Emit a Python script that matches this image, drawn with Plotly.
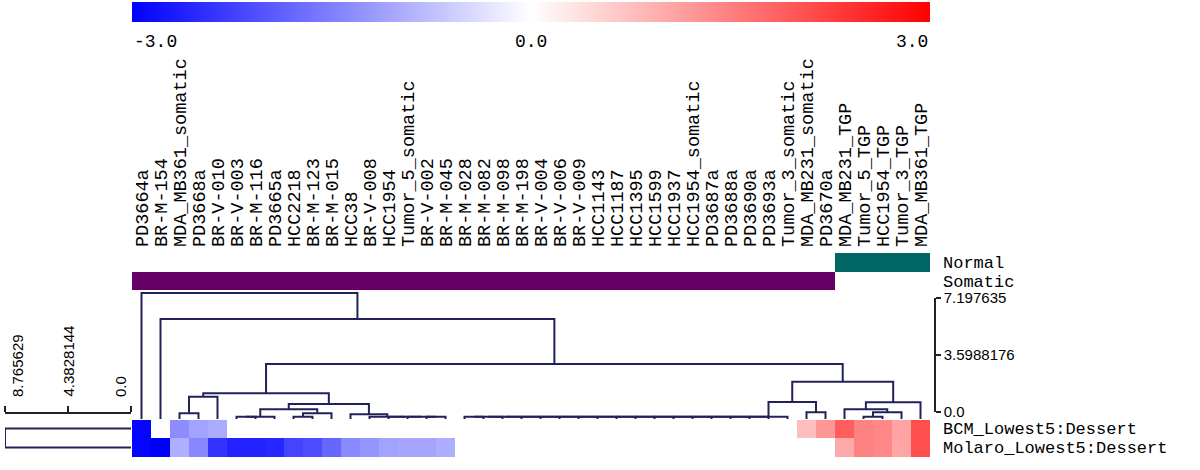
import plotly.graph_objects as go

W, H = 1200, 470

# ---------------- data ----------------
samples = [
    "PD3664a", "BR-M-154", "MDA_MB361_somatic", "PD3668a", "BR-V-010", "BR-V-003",
    "BR-M-116", "PD3665a", "HCC2218", "BR-M-123", "BR-M-015", "HCC38", "BR-V-008",
    "HCC1954", "Tumor_5_somatic", "BR-V-002", "BR-M-045", "BR-M-028", "BR-M-082",
    "BR-M-098", "BR-M-198", "BR-V-004", "BR-V-006", "BR-V-009", "HCC1143", "HCC1187",
    "HCC1395", "HCC1599", "HCC1937", "HCC1954_somatic", "PD3687a", "PD3688a",
    "PD3690a", "PD3693a", "Tumor_3_somatic", "MDA_MB231_somatic", "PD3670a",
    "MDA_MB231_TGP", "Tumor_5_TGP", "HCC1954_TGP", "Tumor_3_TGP", "MDA_MB361_TGP",
]
row_names = ["BCM_Lowest5:Dessert", "Molaro_Lowest5:Dessert"]

bcm_values = [
    -2.95, None, -1.35, -1.10, -1.00, None, None, None, None, None, None, None, None, None,
    None, None, None, None, None, None, None, None, None, None, None, None, None, None,
    None, None, None, None, None, None, None, 0.76, 1.24, 1.90, 1.47, 1.41, 1.08, 2.08,
]
molaro_values = [
    -2.95, -3.00, -0.94, -1.41, -2.40, -2.60, -2.60, -2.55, -2.20, -2.10, -1.80, -1.40,
    -1.25, -1.10, -1.05, -1.05, -0.95, None, None, None, None, None, None, None, None,
    None, None, None, None, None, None, None, None, None, None, None, None, 1.00, 1.47,
    1.41, 1.06, 2.06,
]

annot_rows = ["Normal", "Somatic"]
sample_type = [
    "Somatic", "Somatic", "Somatic", "Somatic", "Somatic", "Somatic", "Somatic",
    "Somatic", "Somatic", "Somatic", "Somatic", "Somatic", "Somatic", "Somatic",
    "Somatic", "Somatic", "Somatic", "Somatic", "Somatic", "Somatic", "Somatic",
    "Somatic", "Somatic", "Somatic", "Somatic", "Somatic", "Somatic", "Somatic",
    "Somatic", "Somatic", "Somatic", "Somatic", "Somatic", "Somatic", "Somatic",
    "Somatic", "Somatic", "Normal", "Normal", "Normal", "Normal", "Normal",
]

# column dendrogram linkage: [left id, right id, height]; leaves are 0..41
col_linkage = [
    [2, 3, 0.20], [42, 4, 1.17], [5, 6, 0.0], [44, 7, 0.0], [8, 9, 0.0],
    [46, 10, 0.20], [45, 47, 0.44], [15, 16, 0.0], [14, 49, 0.0], [13, 50, 0.0],
    [12, 51, 0.0], [11, 52, 0.15], [48, 53, 0.74], [43, 54, 1.37],
    [17, 18, 0.0], [56, 19, 0.0], [57, 20, 0.0], [58, 21, 0.0], [59, 22, 0.0],
    [60, 23, 0.0], [61, 24, 0.0], [62, 25, 0.0], [63, 26, 0.0], [64, 27, 0.0],
    [65, 28, 0.0], [66, 29, 0.0], [67, 30, 0.0], [68, 31, 0.0], [69, 32, 0.0],
    [70, 33, 0.0], [71, 34, 0.0],
    [35, 36, 0.26], [72, 73, 0.86], [38, 39, 0.0], [75, 40, 0.26], [37, 76, 0.44],
    [77, 41, 0.84], [74, 78, 2.04], [55, 79, 3.07], [1, 80, 5.69], [0, 81, 7.197635],
]
row_linkage = [[0, 1, 8.765629]]

col_scale_ticks = [0.0, 3.5988176, 7.197635]
col_scale_text = ["0.0", "3.5988176", "7.197635"]
row_scale_ticks = [0.0, 4.3828144, 8.765629]
row_scale_text = ["0.0", "4.3828144", "8.765629"]
color_ticks = [-3.0, 0.0, 3.0]
color_tick_text = ["-3.0", "0.0", "3.0"]

# ---------------- helpers ----------------
MONO = "Liberation Mono"
SANS = "Liberation Sans"
LINE = "#22225a"


def xd(a, b):
    return [a / W, b / W]


def yd(top, bottom):
    return [1 - bottom / H, 1 - top / H]


def dendro(linkage, n, leaf_base):
    pos = {i: (float(i), leaf_base) for i in range(n)}
    xs, ys = [], []
    for k, (a, b, h) in enumerate(linkage):
        xa, ha = pos[a]
        xb, hb = pos[b]
        xs += [xa, xa, xb, xb, None]
        ys += [ha, h, h, hb, None]
        pos[n + k] = ((xa + xb) / 2, h)
    return xs, ys


n = len(samples)
col_x = list(range(n))

fig = go.Figure()

# main heatmap
fig.add_trace(go.Heatmap(
    z=[bcm_values, molaro_values], x=col_x, y=[0, 1],
    colorscale=[[0, "rgb(0,0,255)"], [0.5, "rgb(255,255,255)"], [1, "rgb(255,0,0)"]],
    zmin=-3, zmax=3, hoverongaps=False,
    colorbar=dict(orientation="h", x=531 / W, xanchor="center", y=1 - 2 / H,
                  yanchor="top", len=798 / W, lenmode="fraction", thickness=20,
                  thicknessmode="pixels", outlinewidth=0, showticklabels=False,
                  ticks="", xpad=0, ypad=0),
    xaxis="x", yaxis="y",
))

# annotation bar (Normal / Somatic)
annot_z = [[1 if t == "Normal" else None for t in sample_type],
           [0 if t == "Somatic" else None for t in sample_type]]
fig.add_trace(go.Heatmap(
    z=annot_z, x=col_x, y=[0, 1], zmin=0, zmax=1, showscale=False,
    colorscale=[[0, "#660066"], [0.5, "#660066"], [0.5, "#006666"], [1, "#006666"]],
    hoverongaps=False, xaxis="x2", yaxis="y2",
))

# column dendrogram
leaf_base = -0.13
cx, cy = dendro(col_linkage, n, leaf_base)
fig.add_trace(go.Scatter(x=cx, y=cy, mode="lines", line=dict(color=LINE, width=2),
                         hoverinfo="skip", xaxis="x3", yaxis="y3", showlegend=False))
# column dendrogram scale axis holder
fig.add_trace(go.Scatter(x=[None], y=[None], mode="lines", xaxis="x3", yaxis="y4",
                         showlegend=False, hoverinfo="skip"))

# row dendrogram
rh, rr = dendro(row_linkage, 2, 0.0)
fig.add_trace(go.Scatter(x=rr, y=rh, mode="lines", line=dict(color=LINE, width=2),
                         hoverinfo="skip", xaxis="x5", yaxis="y5", showlegend=False))

# dendrogram y range mapping: 0 -> 416.8px, top -> 293px within domain 290..420
px_per = (416.8 - 293) / 7.197635
dendro_range = [-(420 - 416.8) / px_per, 7.197635 + (293 - 290) / px_per]

hidden = dict(showgrid=False, zeroline=False, showline=False, showticklabels=False, ticks="")
eps = 1e-6

fig.update_layout(
    width=W, height=H, margin=dict(l=0, r=0, t=0, b=0, autoexpand=False),
    paper_bgcolor="white", plot_bgcolor="white", showlegend=False,
    font=dict(family=MONO, size=18, color="black"),
    xaxis=dict(domain=xd(132, 930), range=[-0.5, n - 0.5], anchor="y", **hidden),
    yaxis=dict(domain=yd(419, 457), range=[1.5, -0.5], anchor="x", side="right",
               tickvals=[0, 1], ticktext=row_names, showgrid=False, zeroline=False,
               showline=False, ticks="", ticklabelstandoff=12,
               tickfont=dict(family=MONO, size=17, color="black")),
    xaxis2=dict(domain=xd(132, 930), range=[-0.5, n - 0.5], anchor="y2", side="top",
                tickvals=col_x, ticktext=samples, tickangle=-90, showgrid=False,
                zeroline=False, showline=False, ticks="", ticklabelstandoff=5,
                tickfont=dict(family=MONO, size=18.5, color="black")),
    yaxis2=dict(domain=yd(253, 290), range=[1.5, -0.5], anchor="x2", side="right",
                tickvals=[0, 1], ticktext=annot_rows, showgrid=False, zeroline=False,
                showline=False, ticks="", ticklabelstandoff=12,
                tickfont=dict(family=MONO, size=17, color="black")),
    xaxis3=dict(domain=xd(132, 930), range=[-0.5, n - 0.5], anchor="y3", **hidden),
    yaxis3=dict(domain=yd(290, 420), range=dendro_range, anchor="x3", **hidden),
    yaxis4=dict(domain=yd(298, 412), range=[-eps, 7.197635 + eps], anchor="free",
                position=935 / W, side="right", tickvals=col_scale_ticks,
                ticktext=col_scale_text, ticks="outside", ticklen=5, tickwidth=1.5,
                tickcolor="#222", showline=True, linecolor="#222", linewidth=1.5,
                showgrid=False, zeroline=False, ticklabeloverflow="allow",
                tickfont=dict(family=SANS, size=15, color="black")),
    xaxis5=dict(domain=xd(5, 131), range=[8.765629 + eps, -eps], anchor="free",
                position=1 - 413 / H, side="top", tickvals=row_scale_ticks,
                ticks="outside", ticklen=6, tickwidth=1.5, showticklabels=False,
                tickcolor="#222", showline=True, linecolor="#222", linewidth=1.5,
                showgrid=False, zeroline=False),
    yaxis5=dict(domain=yd(419, 457), range=[1.5, -0.5], anchor="x5", visible=False),
)

# row-dendrogram scale labels (rotated, above the scale line)
for v, t, anc in zip(row_scale_ticks, row_scale_text, ["right", "center", "left"]):
    fig.add_annotation(x=v, xref="x5", y=1 - 399 / H, yref="paper", text=t,
                       textangle=-90, showarrow=False, xanchor=anc, yanchor="bottom",
                       xshift=2 if anc == "left" else 0,
                       font=dict(family=SANS, size=15, color="black"))

# colour scale labels
for v, t, anc in zip(color_ticks, color_tick_text, ["left", "center", "right"]):
    fig.add_annotation(x=(v + 3) / 6, xref="x domain", y=1 - 42 / H, yref="paper",
                       text=t, showarrow=False, xanchor=anc, yanchor="middle",
                       font=dict(family=MONO, size=18, color="black"))

fig.write_html("out.html", config={"displayModeBar": False, "responsive": False},
               post_script="document.body.style.margin='0';")
